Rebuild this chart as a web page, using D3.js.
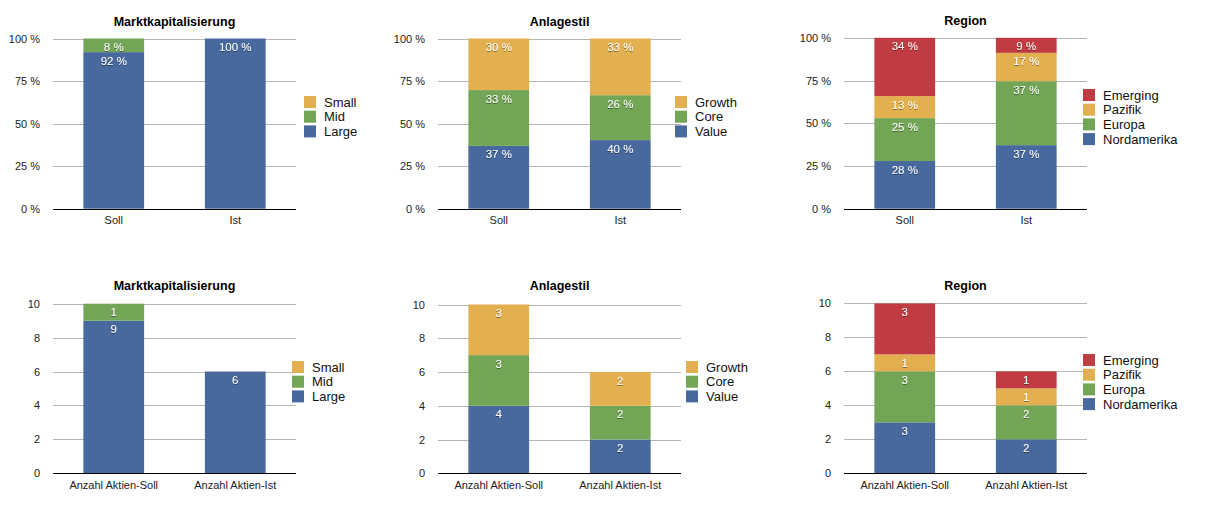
<!DOCTYPE html>
<html>
<head>
<meta charset="utf-8">
<script src="https://cdn.jsdelivr.net/npm/d3@7"></script>
<style>
  body { margin: 0; background: #fff; }
  svg { font-family: "Liberation Sans", Arial, Helvetica, sans-serif; }
</style>
</head>
<body>
<div id="chartContainer"></div>
<script>
// categories
var sollIst = ["Soll", "Ist"];
var anzahl = ["Anzahl Aktien-Soll", "Anzahl Aktien-Ist"];

// series (bottom to top of the stack)
var kapSeries = ["Large", "Mid", "Small"];
var stilSeries = ["Value", "Core", "Growth"];
var regionSeries = ["Nordamerika", "Europa", "Pazifik", "Emerging"];

// values, one row per category
var kapPct = [[92, 8, 0], [100, 0, 0]];
var stilPct = [[36.9, 32.8, 30.3], [40.3, 26.4, 33.3]];
var regionPct = [[27.9, 25.1, 12.9, 34.1], [37.2, 37.4, 16.6, 8.8]];

var kapCount = [[9, 1, 0], [6, 0, 0]];
var stilCount = [[4, 3, 3], [2, 2, 2]];
var regionCount = [[3, 3, 1, 3], [2, 2, 1, 1]];

// tick labels
var pctTicks = [0, 25, 50, 75, 100];
var countTicks = [0, 2, 4, 6, 8, 10];

var colors = {
    "Large": "#48699d", "Mid": "#72a656", "Small": "#e3b050",
    "Value": "#48699d", "Core": "#72a656", "Growth": "#e3b050",
    "Nordamerika": "#48699d", "Europa": "#72a656", "Pazifik": "#e3b050", "Emerging": "#c13c42"
};

var svg = d3.select("#chartContainer")
    .append("svg")
    .attr("width", 1224)
    .attr("height", 513);

var filter = svg.append("defs").append("filter")
    .attr("id", "shadow")
    .attr("x", "-20%").attr("y", "-20%")
    .attr("width", "140%").attr("height", "160%");
filter.append("feDropShadow")
    .attr("dx", 0).attr("dy", 1)
    .attr("stdDeviation", 0.7)
    .attr("flood-color", "#000")
    .attr("flood-opacity", 0.45);

function panel(opt) {
    var g = svg.append("g");
    var x = d3.scaleBand()
        .domain(opt.categories)
        .range([opt.x0, opt.x0 + 243])
        .paddingInner(0.5)
        .paddingOuter(0.25);
    var ticks = opt.ticks;
    var y = d3.scaleLinear()
        .domain([0, ticks[ticks.length - 1]])
        .range([opt.yBottom, opt.yTop]);

    // grid
    g.selectAll(".grid")
        .data(ticks.filter(function(t){ return t > 0; }))
        .enter().append("line")
        .attr("x1", opt.x0).attr("x2", opt.x0 + 243)
        .attr("y1", function(d){ return Math.round(y(d)) + 0.5; })
        .attr("y2", function(d){ return Math.round(y(d)) + 0.5; })
        .attr("stroke", "#b5b5b5")
        .attr("stroke-width", 1);

    // y tick labels
    g.selectAll(".tick")
        .data(ticks)
        .enter().append("text")
        .attr("x", opt.x0 - 13)
        .attr("y", function(d){ return y(d) + 4; })
        .attr("text-anchor", "end")
        .attr("font-size", 11)
        .attr("fill", "#222")
        .text(function(d){ return d + opt.suffix; });

    // stacked bars
    var rows = opt.categories.map(function(c, i) {
        var r = { cat: c };
        opt.series.forEach(function(s, j){ r[s] = opt.values[i][j]; });
        return r;
    });
    var stacked = d3.stack().keys(opt.series)(rows);

    stacked.forEach(function(layer) {
        var lg = g.append("g");
        lg.selectAll("rect")
            .data(layer.filter(function(d){ return d[1] - d[0] > 0; }))
            .enter().append("rect")
            .attr("x", function(d){ return x(d.data.cat); })
            .attr("width", x.bandwidth())
            .attr("y", function(d){ return y(d[1]); })
            .attr("height", function(d){ return y(d[0]) - y(d[1]); })
            .attr("fill", colors[layer.key]);
    });

    stacked.forEach(function(layer) {
        g.append("g").selectAll("text")
            .data(layer.filter(function(d){ return d[1] - d[0] > 0; }))
            .enter().append("text")
            .attr("x", function(d){ return x(d.data.cat) + x.bandwidth() / 2; })
            .attr("y", function(d){ return y(d[1]) + 12.5; })
            .attr("text-anchor", "middle")
            .attr("font-size", 11.5)
            .attr("fill", "#fff")
            .attr("filter", "url(#shadow)")
            .text(function(d){ return Math.round(d[1] - d[0]) + opt.suffix; });
    });

    // axis line
    g.append("line")
        .attr("x1", opt.x0).attr("x2", opt.x0 + 243)
        .attr("y1", Math.round(opt.yBottom) + 0.5).attr("y2", Math.round(opt.yBottom) + 0.5)
        .attr("stroke", "#000")
        .attr("stroke-width", 1.2);

    // x labels
    g.selectAll(".xlabel")
        .data(opt.categories)
        .enter().append("text")
        .attr("x", function(d){ return x(d) + x.bandwidth() / 2; })
        .attr("y", opt.yBottom + 15.5)
        .attr("text-anchor", "middle")
        .attr("font-size", 11)
        .attr("fill", "#222")
        .text(function(d){ return d; });

    // title
    g.append("text")
        .attr("x", opt.x0 + 121.5)
        .attr("y", opt.titleY)
        .attr("text-anchor", "middle")
        .attr("font-size", 12.5)
        .attr("font-weight", "bold")
        .attr("fill", "#000")
        .text(opt.title);

    // legend, top of stack first
    var legend = g.selectAll(".legend")
        .data(opt.series.slice().reverse())
        .enter().append("g")
        .attr("transform", function(d, i){
            return "translate(" + opt.legendX + "," + (opt.legendY + i * 14.7) + ")";
        });
    legend.append("rect")
        .attr("width", 12).attr("height", 12)
        .attr("fill", function(d){ return colors[d]; });
    legend.append("text")
        .attr("x", 20)
        .attr("y", 10.5)
        .attr("font-size", 13)
        .attr("fill", "#111")
        .text(function(d){ return d; });
}

panel({ title: "Marktkapitalisierung", categories: sollIst, series: kapSeries, values: kapPct,
        ticks: pctTicks, suffix: " %", x0: 53, yTop: 38.5, yBottom: 208.7, titleY: 25.5,
        legendX: 304, legendY: 96 });
panel({ title: "Anlagestil", categories: sollIst, series: stilSeries, values: stilPct,
        ticks: pctTicks, suffix: " %", x0: 438, yTop: 38.5, yBottom: 208.7, titleY: 25.5,
        legendX: 675, legendY: 96 });
panel({ title: "Region", categories: sollIst, series: regionSeries, values: regionPct,
        ticks: pctTicks, suffix: " %", x0: 844, yTop: 37.8, yBottom: 208.7, titleY: 25,
        legendX: 1083, legendY: 89 });

panel({ title: "Marktkapitalisierung", categories: anzahl, series: kapSeries, values: kapCount,
        ticks: countTicks, suffix: "", x0: 53, yTop: 303.7, yBottom: 473.3, titleY: 290,
        legendX: 292, legendY: 361 });
panel({ title: "Anlagestil", categories: anzahl, series: stilSeries, values: stilCount,
        ticks: countTicks, suffix: "", x0: 438, yTop: 304.5, yBottom: 473.3, titleY: 290,
        legendX: 686, legendY: 361 });
panel({ title: "Region", categories: anzahl, series: regionSeries, values: regionCount,
        ticks: countTicks, suffix: "", x0: 844, yTop: 303.4, yBottom: 473.3, titleY: 290,
        legendX: 1083, legendY: 354 });
</script>
</body>
</html>
